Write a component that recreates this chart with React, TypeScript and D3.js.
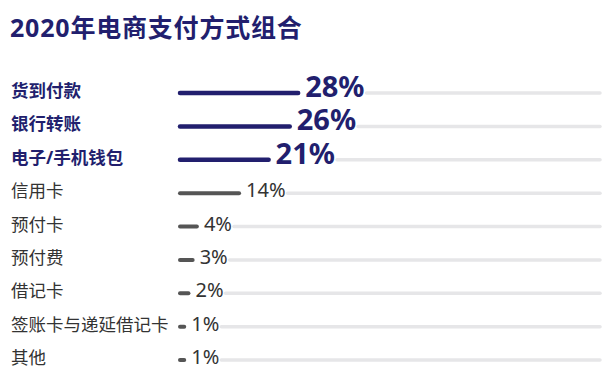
import React, { useEffect, useRef } from "react";
import * as d3 from "d3";

const title = "2020年电商支付方式组合";
const categories = ["货到付款", "银行转账", "电子/手机钱包", "信用卡", "预付卡", "预付费", "借记卡", "签账卡与递延借记卡", "其他"];
const values = [28, 26, 21, 14, 4, 3, 2, 1, 1];
const highlighted = [true, true, true, false, false, false, false, false, false];

const W = 614;
const H = 383;
const NAVY = "#221f6e";
const FONT = "'Noto Sans', 'Noto Sans CJK SC', sans-serif";

export default function App() {
  const ref = useRef<SVGSVGElement | null>(null);

  useEffect(() => {
    const svg = d3.select(ref.current);
    svg.selectAll("*").remove();

    const x = d3.scaleLinear().domain([0, 100]).range([180, 602]);
    const y = d3.scalePoint<string>().domain(categories).range([93, 360]);

    svg.append("text")
      .attr("x", 10).attr("y", 37)
      .attr("fill", NAVY)
      .attr("font-family", FONT)
      .attr("font-size", 25)
      .attr("font-weight", 700)
      .attr("letter-spacing", 0.8)
      .text(title);

    const tracks = svg.append("g");
    const bars = svg.append("g");
    const labels = svg.append("g");

    categories.forEach((c, i) => {
      const hi = highlighted[i];
      const yy = y(c)!;
      labels.append("text")
        .attr("x", 11).attr("y", yy + 4)
        .attr("fill", hi ? NAVY : "#333333")
        .attr("font-family", FONT)
        .attr("font-size", 17.5)
        .attr("font-weight", hi ? 700 : 400)
        .text(c);

      bars.append("line")
        .attr("x1", x(0)).attr("x2", x(values[i]))
        .attr("y1", yy).attr("y2", yy)
        .attr("stroke", hi ? NAVY : "#555555")
        .attr("stroke-width", hi ? 4.5 : 4)
        .attr("stroke-linecap", "round");

      const t = labels.append("text")
        .attr("x", x(values[i]) + 7).attr("y", yy + 4)
        .attr("fill", hi ? NAVY : "#333333")
        .attr("font-family", FONT)
        .attr("font-size", hi ? 29 : 20)
        .attr("font-weight", hi ? 700 : 400)
        .text(values[i] + "%");

      const node = t.node() as SVGTextElement;
      const end = x(values[i]) + 7 + node.getComputedTextLength() + 2;
      tracks.append("line")
        .attr("x1", end).attr("x2", 600)
        .attr("y1", yy).attr("y2", yy)
        .attr("stroke", "#e6e6e8")
        .attr("stroke-width", 3.5)
        .attr("stroke-linecap", "round");
    });
  }, []);

  return (
    <svg
      ref={ref}
      width={W}
      height={H}
      style={{ position: "absolute", left: 0, top: 0, display: "block", background: "#fff" }}
    />
  );
}
